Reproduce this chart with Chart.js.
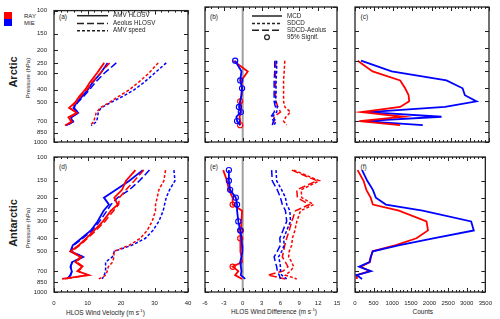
<!DOCTYPE html>
<html>
<head>
<meta charset="utf-8">
<script src="https://cdn.jsdelivr.net/npm/chart.js@4.4.1/dist/chart.umd.min.js"></script>
<style>
  body { margin: 0; width: 500px; height: 319px; position: relative; overflow: hidden; background: #fff;
         font-family: "Liberation Sans", Arial, sans-serif; color: #222; }
  canvas { position: absolute; left: 0; top: 0; }
  .t { position: absolute; white-space: nowrap; line-height: 1; }
  .v { transform: translate(-50%, -50%) rotate(-90deg); }
  .m { transform: translateY(-50%); }
  .sq { position: absolute; width: 8px; height: 7px; }
  sup { font-size: 4.2px; vertical-align: 3px; }
</style>
</head>
<body>
<div class="sq" style="left:4px;top:12px;background:#f00"></div>
<div class="sq" style="left:4px;top:19px;background:#00f"></div>
<div class="t m" style="left:24px;top:15.5px;font-size:6px">RAY</div>
<div class="t m" style="left:24px;top:22.7px;font-size:6px">MIE</div>

<div class="t v" style="left:12.5px;top:72px;font-size:11px;font-weight:bold">Arctic</div>
<div class="t v" style="left:12.5px;top:223px;font-size:11px;font-weight:bold">Antarctic</div>
<div class="t v" style="left:27.8px;top:77.5px;font-size:6px">Pressure (hPa)</div>
<div class="t v" style="left:27.8px;top:227.5px;font-size:6px">Pressure (hPa)</div>

<div class="t m" style="left:66px;top:313px;font-size:6.5px">HLOS Wind Velocity (m s<sup>-1</sup>)</div>
<div class="t m" style="left:231px;top:312px;font-size:6.5px">HLOS Wind Difference (m s<sup>-1</sup>)</div>
<div class="t m" style="left:412.5px;top:312px;font-size:6.5px">Counts</div>

<div class="t m" style="left:59px;top:16.7px;font-size:6.5px">(a)</div>
<div class="t m" style="left:210px;top:16.7px;font-size:6.5px">(b)</div>
<div class="t m" style="left:360.5px;top:16.7px;font-size:6.5px">(c)</div>
<div class="t m" style="left:59px;top:166.7px;font-size:6.5px">(d)</div>
<div class="t m" style="left:210px;top:166.7px;font-size:6.5px">(e)</div>
<div class="t m" style="left:360.5px;top:166.7px;font-size:6.5px">(f)</div>

<script>
// pressure levels (hPa)
const AR_P = [250, 300, 350, 400, 450, 500, 550, 600, 650, 700, 750];
const AN_P = [125, 150, 175, 200, 225, 250, 300, 350, 400, 450, 500, 550, 600, 650, 700, 750, 800];

// tick labels
const P_TICKS = [100, 150, 200, 250, 300, 400, 500, 700, 850, 1000];
const VEL_TICKS = [0, 10, 20, 30, 40];
const DIFF_TICKS = [-6, -3, 0, 3, 6, 9, 12, 15];
const CNT_TICKS = [0, 500, 1000, 1500, 2000, 2500, 3000, 3500];

// Arctic wind velocity (m/s)
const AR_RAY_AMV = [15.0, 12.8, 10.8, 9.3, 7.5, 6.3, 4.5, 6.8, 4.3, 5.2, 3.3];
const AR_RAY_AEO = [16.6, 13.8, 11.5, 9.8, 7.9, 6.6, 4.8, 6.9, 4.6, 5.4, 3.5];
const AR_RAY_SPD = [31.1, 28.3, 25.3, 22.5, 19.3, 16.5, 13.8, 12.6, 12.2, 11.9, 10.7];
const AR_MIE_AMV = [16.0, 13.9, 11.6, 10.1, 8.4, 6.8, 5.8, 7.2, 5.0, 5.6, 3.6];
const AR_MIE_AEO = [18.6, 15.0, 12.4, 10.6, 8.8, 7.1, 6.0, 7.3, 5.2, 5.8, 3.8];
const AR_MIE_SPD = [33.5, 30.0, 27.0, 24.0, 20.5, 17.0, 14.0, 13.2, 13.0, 12.7, 11.1];

// Arctic differences (m/s) and 95% significance flags
const AR_RAY_MCD = [-1.5, 0.8, -0.2, -0.1, -0.2, -0.4, -0.3, -0.3, -0.5, -0.4, -0.4];
const AR_RAY_SIG = [0, 0, 0, 0, 0, 1, 0, 0, 0, 0, 1];
const AR_MIE_MCD = [-1.2, -0.2, -0.4, -0.1, -0.2, -0.4, -0.6, -0.3, -1.0, -0.9, -0.4];
const AR_MIE_SIG = [1, 0, 1, 1, 0, 0, 1, 1, 0, 1, 0];
const AR_RAY_SDCD = [6.7, 6.6, 6.5, 6.5, 6.5, 6.5, 6.7, 7.6, 6.9, 6.5, 7.0];
const AR_RAY_SDCDA = [5.3, 5.2, 5.2, 5.2, 5.2, 5.3, 5.6, 6.0, 5.0, 5.0, 4.7];
const AR_MIE_SDCD = [5.4, 5.4, 5.3, 5.3, 5.3, 5.2, 5.5, 5.4, 4.7, 5.3, 5.0];
const AR_MIE_SDCDA = [5.1, 5.1, 5.0, 5.0, 5.0, 5.0, 5.2, 5.0, 4.5, 4.9, 4.7];

// Arctic counts
const AR_RAY_N = [70, 460, 1180, 1310, 1400, 1415, 1180, 175, 1270, 110, 1180];
const AR_MIE_N = [157, 957, 2390, 2810, 2870, 3175, 2350, 350, 2260, 220, 1770];

// Antarctic wind velocity (m/s)
const AN_RAY_AMV = [24.3, 21.5, 20.3, 18.0, 19.0, 17.0, 14.6, 12.0, 9.6, 7.4, 4.9, 7.9, 6.4, 8.4, 7.0, 10.4, 2.4];
const AN_RAY_AEO = [26.8, 24.0, 21.5, 19.5, 19.3, 17.8, 15.2, 12.5, 10.0, 7.8, 5.2, 8.2, 6.8, 8.8, 7.2, 10.0, 3.2];
const AN_RAY_SPD = [33.3, 32.8, 31.3, 30.8, 30.3, 30.3, 29.3, 27.8, 25.8, 22.5, 17.9, 17.9, 17.5, 16.2, 15.9, 15.5, 13.4];
const AN_MIE_AMV = [26.5, 22.5, 18.5, 14.9, 16.4, 14.8, 13.0, 11.0, 8.2, 5.6, 4.9, 8.7, 5.4, 4.9, 5.3, 5.0, 3.9];
const AN_MIE_AEO = [28.5, 25.5, 22.5, 19.0, 17.0, 15.8, 13.6, 11.4, 8.6, 5.9, 5.1, 8.8, 5.5, 5.0, 5.5, 4.8, 4.2];
const AN_MIE_SPD = [35.8, 36.1, 34.5, 33.5, 33.0, 32.6, 31.3, 29.5, 27.3, 23.3, 18.0, 17.4, 15.4, 15.4, 15.4, 15.0, 14.4];

// Antarctic differences (m/s) and 95% significance flags
const AN_RAY_MCD = [-3.1, -2.5, -2.2, -1.6, -1.6, -0.1, -0.2, -0.3, -0.4, -0.4, -0.3, -0.2, -0.1, -1.6, -0.7, -1.2, -0.1];
const AN_RAY_SIG = [0, 0, 0, 0, 1, 0, 0, 1, 1, 0, 0, 0, 0, 1, 0, 0, 0];
const AN_MIE_MCD = [-2.2, -2.2, -2.0, -1.1, -0.9, -0.9, -0.7, -0.4, -0.2, -0.1, -0.05, -0.2, -0.4, -0.3, -0.2, -0.3, 0.4];
const AN_MIE_SIG = [1, 1, 1, 1, 1, 0, 1, 1, 0, 0, 0, 0, 0, 0, 0, 0, 0];
const AN_RAY_SDCD = [8.1, 12.2, 9.3, 9.4, 11.3, 9.2, 8.6, 8.3, 7.9, 7.8, 7.4, 7.3, 7.8, 8.1, 7.6, 6.8, 8.6];
const AN_RAY_SDCDA = [7.8, 11.8, 8.6, 8.7, 10.6, 8.4, 7.8, 7.4, 7.0, 6.7, 6.5, 6.3, 6.8, 7.2, 6.4, 4.0, 6.8];
const AN_MIE_SDCD = [5.3, 5.4, 6.2, 6.8, 7.0, 7.5, 7.6, 7.0, 6.5, 6.6, 6.2, 5.7, 5.9, 6.0, 6.0, 6.2, 7.0];
const AN_MIE_SDCDA = [4.6, 4.7, 5.5, 6.0, 6.3, 6.8, 7.0, 6.4, 5.9, 6.0, 5.5, 5.0, 5.2, 5.4, 5.5, 5.8, 6.0];

// Antarctic counts
const AN_RAY_N = [70, 230, 305, 420, 480, 1180, 1920, 1960, 1650, 1100, 470, 430, 400, 150, 400, 40, 50];
const AN_MIE_N = [190, 330, 480, 560, 830, 1815, 3120, 3190, 2100, 1200, 480, 420, 390, 110, 430, 45, 190];

const RED = "#ff0000";
const BLUE = "#0000ff";
const INK = "#222222";
const FONT = "'Liberation Sans', Arial, sans-serif";
const LONG = [7, 3];
const SHORT = [3, 2];

function series(levels, vals, color, dash, sig) {
  return {
    data: vals.map((v, i) => ({ x: v, y: levels[i] })),
    showLine: true,
    borderColor: color,
    borderWidth: dash ? 1.5 : 1.8,
    borderDash: dash || [],
    tension: 0,
    pointRadius: sig ? (c => (sig[c.dataIndex] ? 2.6 : 0)) : 0,
    pointStyle: "circle",
    pointBorderColor: color,
    pointBackgroundColor: "rgba(0,0,0,0)",
    pointBorderWidth: 1.1,
    order: 1,
  };
}

function zeroLine() {
  return {
    data: [{ x: 0, y: 100 }, { x: 0, y: 1000 }],
    showLine: true,
    borderColor: "#a0a0a0",
    borderWidth: 2,
    pointRadius: 0,
    order: 10,
  };
}

// inward tick marks on all four sides plus the frame
const frameTicks = {
  id: "frameTicks",
  afterDatasetsDraw(chart, args, opts) {
    const { ctx, chartArea: a, scales: { x, y } } = chart;
    ctx.save();
    ctx.strokeStyle = INK;
    ctx.lineWidth = 1;
    ctx.beginPath();
    const n = Math.round((x.max - x.min) / opts.minor);
    for (let i = 0; i <= n; i++) {
      const v = x.min + i * opts.minor;
      const px = Math.round(x.getPixelForValue(v)) + 0.5;
      const major = x.ticks.some(t => Math.abs(t.value - v) < 1e-6);
      const len = major ? 4 : 2;
      ctx.moveTo(px, a.bottom); ctx.lineTo(px, a.bottom - len);
      ctx.moveTo(px, a.top); ctx.lineTo(px, a.top + len);
    }
    y.ticks.forEach(t => {
      const py = Math.round(y.getPixelForValue(t.value)) + 0.5;
      ctx.moveTo(a.left, py); ctx.lineTo(a.left + 4, py);
      ctx.moveTo(a.right, py); ctx.lineTo(a.right - 4, py);
    });
    ctx.stroke();
    ctx.lineWidth = 1.3;
    ctx.strokeRect(a.left, a.top, a.right - a.left, a.bottom - a.top);
    ctx.restore();
  },
};

// small line-style key drawn inside a panel
function keyPlugin(items, x0, x1, xt) {
  return {
    id: "key",
    afterDraw(chart) {
      const ctx = chart.ctx;
      ctx.save();
      ctx.strokeStyle = INK;
      ctx.fillStyle = INK;
      ctx.font = "6.3px " + FONT;
      ctx.textBaseline = "middle";
      items.forEach(it => {
        if (it.circle) {
          ctx.setLineDash([]);
          ctx.lineWidth = 1.2;
          ctx.beginPath();
          ctx.arc((x0 + x1) / 2, it.y, 2.4, 0, Math.PI * 2);
          ctx.stroke();
        } else {
          ctx.setLineDash(it.dash);
          ctx.lineWidth = 1.5;
          ctx.beginPath();
          ctx.moveTo(x0, it.y); ctx.lineTo(x1, it.y);
          ctx.stroke();
        }
        ctx.fillText(it.label, xt, it.y);
      });
      ctx.restore();
    },
  };
}

function panel(rect, datasets, xr, opt) {
  const canvas = document.createElement("canvas");
  canvas.width = 500;
  canvas.height = 319;
  document.body.appendChild(canvas);
  const yW = opt.yLabels ? 30 : 0;
  const xH = opt.xLabels ? 20 : 0;
  const tickFont = { family: FONT, size: 6 };
  new Chart(canvas.getContext("2d"), {
    type: "scatter",
    data: { datasets },
    options: {
      responsive: false,
      devicePixelRatio: 1,
      animation: false,
      events: [],
      layout: {
        padding: {
          left: rect.left - yW,
          top: rect.top,
          right: 500 - rect.right,
          bottom: 319 - rect.bottom - xH,
        },
      },
      plugins: {
        legend: { display: false },
        tooltip: { enabled: false },
        frameTicks: { minor: xr.minor },
      },
      scales: {
        x: {
          type: "linear",
          min: xr.min,
          max: xr.max,
          afterBuildTicks: s => { s.ticks = xr.ticks.map(v => ({ value: v })); },
          afterFit: s => { s.height = xH; },
          grid: { display: false, drawTicks: false },
          border: { display: false },
          ticks: {
            display: opt.xLabels,
            autoSkip: false,
            maxRotation: 0,
            padding: 8,
            color: INK,
            font: tickFont,
            callback: v => String(v),
          },
        },
        y: {
          type: "logarithmic",
          reverse: true,
          min: 100,
          max: 1000,
          afterBuildTicks: s => { s.ticks = P_TICKS.map(v => ({ value: v })); },
          afterFit: s => { s.width = yW; },
          grid: { display: false, drawTicks: false },
          border: { display: false },
          ticks: {
            display: opt.yLabels,
            autoSkip: false,
            padding: 7,
            color: INK,
            font: tickFont,
            callback: v => String(v),
          },
        },
      },
    },
    plugins: [frameTicks].concat(opt.key ? [opt.key] : []),
  });
}

const VEL = { min: 0, max: 40, ticks: VEL_TICKS, minor: 2 };
const DIFF = { min: -6, max: 15, ticks: DIFF_TICKS, minor: 1 };
const CNT = { min: 0, max: 3500, ticks: CNT_TICKS, minor: 100 };

const ROW1 = { top: 7, bottom: 142 };
const ROW2 = { top: 157, bottom: 292 };
const COLA = { left: 54, right: 188 };
const COLB = { left: 205, right: 337 };
const COLC = { left: 355, right: 489 };

const keyA = keyPlugin([
  { y: 15.7, dash: [], label: "AMV HLOSV" },
  { y: 23.5, dash: LONG, label: "Aeolus HLOSV" },
  { y: 30.7, dash: SHORT, label: "AMV speed" },
], 77, 108, 113);

const keyB = keyPlugin([
  { y: 16, dash: [], label: "MCD" },
  { y: 23.5, dash: SHORT, label: "SDCD" },
  { y: 30.3, dash: LONG, label: "SDCD-Aeolus" },
  { y: 37.3, circle: true, label: "95% Signif." },
], 252, 282, 287);

// (a)
panel({ ...COLA, ...ROW1 }, [
  series(AR_P, AR_RAY_AMV, RED),
  series(AR_P, AR_RAY_AEO, RED, LONG),
  series(AR_P, AR_MIE_AMV, BLUE),
  series(AR_P, AR_MIE_AEO, BLUE, LONG),
  series(AR_P, AR_RAY_SPD, RED, SHORT),
  series(AR_P, AR_MIE_SPD, BLUE, SHORT),
], VEL, { yLabels: true, xLabels: false, key: keyA });

// (b)
panel({ ...COLB, ...ROW1 }, [
  series(AR_P, AR_MIE_MCD, BLUE, null, AR_MIE_SIG),
  series(AR_P, AR_RAY_MCD, RED, null, AR_RAY_SIG),
  series(AR_P, AR_MIE_SDCD, BLUE, SHORT),
  series(AR_P, AR_MIE_SDCDA, BLUE, LONG),
  series(AR_P, AR_RAY_SDCD, RED, SHORT),
  series(AR_P, AR_RAY_SDCDA, RED, LONG),
  zeroLine(),
], DIFF, { yLabels: false, xLabels: false, key: keyB });

// (c)
panel({ ...COLC, ...ROW1 }, [
  series(AR_P, AR_RAY_N, RED),
  series(AR_P, AR_MIE_N, BLUE),
], CNT, { yLabels: false, xLabels: false });

// (d)
panel({ ...COLA, ...ROW2 }, [
  series(AN_P, AN_RAY_AMV, RED),
  series(AN_P, AN_RAY_AEO, RED, LONG),
  series(AN_P, AN_MIE_AMV, BLUE),
  series(AN_P, AN_MIE_AEO, BLUE, LONG),
  series(AN_P, AN_RAY_SPD, RED, SHORT),
  series(AN_P, AN_MIE_SPD, BLUE, SHORT),
], VEL, { yLabels: true, xLabels: true });

// (e)
panel({ ...COLB, ...ROW2 }, [
  series(AN_P, AN_MIE_MCD, BLUE, null, AN_MIE_SIG),
  series(AN_P, AN_RAY_MCD, RED, null, AN_RAY_SIG),
  series(AN_P, AN_MIE_SDCD, BLUE, SHORT),
  series(AN_P, AN_MIE_SDCDA, BLUE, LONG),
  series(AN_P, AN_RAY_SDCD, RED, SHORT),
  series(AN_P, AN_RAY_SDCDA, RED, LONG),
  zeroLine(),
], DIFF, { yLabels: false, xLabels: true });

// (f)
panel({ ...COLC, ...ROW2 }, [
  series(AN_P, AN_MIE_N, BLUE),
  series(AN_P, AN_RAY_N, RED),
], CNT, { yLabels: false, xLabels: true });
</script>
</body>
</html>
